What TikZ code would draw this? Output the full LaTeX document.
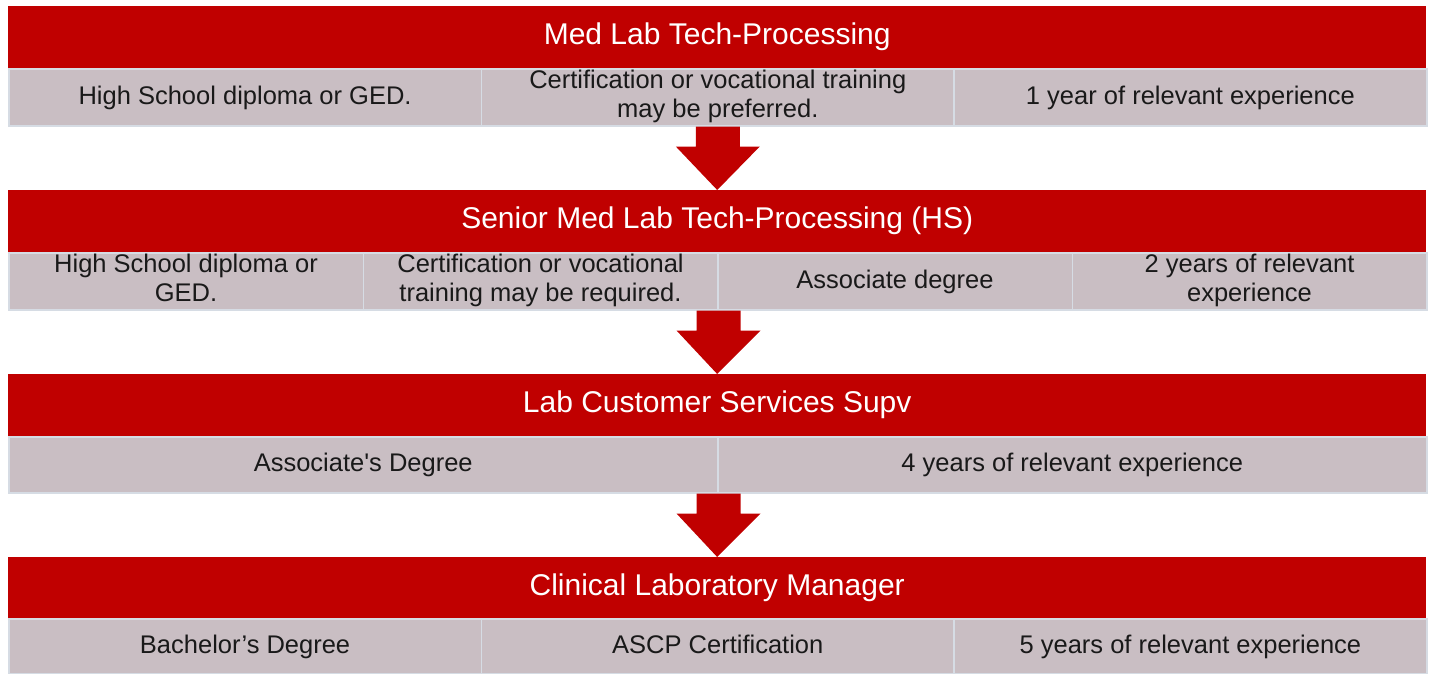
\documentclass[tikz,border=0pt]{standalone}
\usepackage{fontspec}
\setmainfont{Liberation Sans}
\usepackage{tikz}
\usetikzlibrary{calc}

\definecolor{barred}{RGB}{192,0,0}
\definecolor{cellgray}{RGB}{201,190,195}
\definecolor{cellline}{RGB}{214,220,228}

% red arrow from the middle of a gray row down to the next title bar
\newcommand{\stepArrow}[2]{%
  \fill[barred] ($(#1)+(-22,0)$) -- ($(#1)+(22,0)$)
    -- ($(#1)+(22,20)$) -- ($(#1)+(42,20)$)
    -- (#2.north) -- ($(#1)+(-42,20)$)
    -- ($(#1)+(-22,20)$) -- cycle;}

\begin{document}
\begin{tikzpicture}[x=1pt, y=-1pt,
    titlebar/.style={fill=barred, text=white, anchor=north west, inner sep=0pt,
      minimum width=1418pt, minimum height=62pt,
      font=\fontsize{30}{34}\selectfont},
    cell/.style={fill=cellgray, draw=cellline, line width=1.5pt, anchor=north west,
      inner sep=0pt, minimum height=#1, align=center, text=black!90,
      font=\fontsize{25.5}{29}\selectfont,
      execute at begin node={\rule[-7pt]{0pt}{28pt}},
      execute at end node={\rule[-7pt]{0pt}{28pt}}},
    cell/.default=57pt,
    twoline/.style={execute at begin node={\rule[-6pt]{0pt}{28pt}},
      execute at end node={\rule[-6pt]{0pt}{28pt}}}]
	\useasboundingbox (0,0) rectangle (1432,673);

	% Stage 1
	\node[titlebar] (t1) at (8,6) {Med Lab Tech-Processing};
	\node[cell, minimum width=472.7pt] (a1) at (8,68) {High School diploma or GED.};
	\node[cell, twoline, minimum width=472.7pt] (a2) at (480.7,68) {Certification or vocational training\\may be preferred.};
	\node[cell, minimum width=472.7pt] (a3) at (953.3,68) {1 year of relevant experience};

	% Stage 2
	\node[titlebar] (t2) at (8,190) {Senior Med Lab Tech-Processing (HS)};
	\node[cell, twoline, minimum width=354.5pt] (b1) at (8,252) {High School diploma or\\GED.};
	\node[cell, twoline, minimum width=354.5pt] (b2) at (362.5,252) {Certification or vocational\\training may be required.};
	\node[cell, minimum width=354.5pt] (b3) at (717,252) {Associate degree};
	\node[cell, twoline, minimum width=354.5pt] (b4) at (1071.5,252) {2 years of relevant\\experience};

	% Stage 3
	\node[titlebar] (t3) at (8,374) {Lab Customer Services Supv};
	\node[cell=56pt, minimum width=709pt] (c1) at (8,436) {Associate\textquotesingle s Degree};
	\node[cell=56pt, minimum width=709pt] (c2) at (717,436) {4 years of relevant experience};

	% Stage 4
	\node[titlebar] (t4) at (8,557) {Clinical Laboratory Manager};
	\node[cell=55pt, minimum width=472.7pt] (d1) at (8,618) {Bachelor’s Degree};
	\node[cell=55pt, minimum width=472.7pt] (d2) at (480.7,618) {ASCP Certification};
	\node[cell=55pt, minimum width=472.7pt] (d3) at (953.3,618) {5 years of relevant experience};

	% Arrows
	\coordinate (m1) at (a2.south);
	\coordinate (m2) at (b2.south east);
	\coordinate (m3) at (c1.south east);
	\stepArrow{m1}{t2}
	\stepArrow{m2}{t3}
	\stepArrow{m3}{t4}
\end{tikzpicture}
\end{document}
